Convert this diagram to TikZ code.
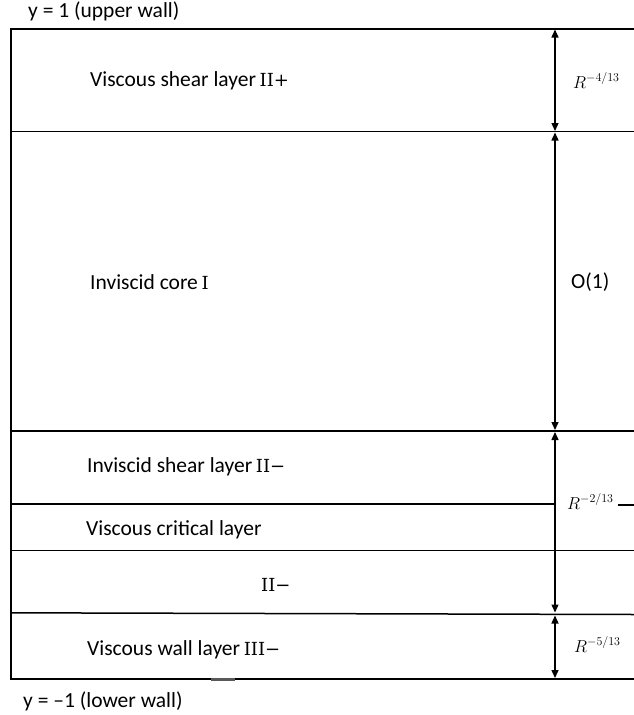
\documentclass[tikz,border=0pt]{standalone}
\usepackage{fontspec}
\setmainfont{Carlito}
\newfontfamily\cam{DejaVu Serif}
\usetikzlibrary{arrows.meta}
\tikzset{
  lbl/.style={anchor=base west, inner sep=0pt, font=\fontsize{21.5}{24}\selectfont},
  rlbl/.style={anchor=base west, inner sep=0pt, font=\fontsize{18}{20}\selectfont},
  wall/.style={line width=1.5pt, black},
  dim/.style={line width=1.4pt, black, {Triangle[width=7pt,length=8pt]}-{Triangle[width=7pt,length=8pt]}}
}
\newcommand{\numfont}{\cam\fontsize{18}{20}\selectfont}
\begin{document}
\begin{tikzpicture}[x=1pt,y=-1pt]
\useasboundingbox (0,0) rectangle (634,715);
% wall lines
\coordinate (TL) at (11,29);
\coordinate (BL) at (11,679);
\draw[wall] (634,29) -- (TL) -- (BL) -- (634,679);
\draw[wall] (11,131.5) -- (634,131.5);
\draw[wall] (11,431) -- (634,431);
\draw[wall] (11,504) -- (555,504);
\draw[wall] (618,505) -- (634,505);
\draw[wall] (11,550.5) -- (634,550.5);
\draw[wall] (11,612.8) -- (634,614.5);
\draw[line width=2.5pt, black!65] (211,679.3) -- (235,679.3);
% dimension arrows
\coordinate (a0) at (555,29.5);
\coordinate (a1) at (555,131);
\coordinate (b0) at (555,132.5);
\coordinate (b1) at (555,430);
\coordinate (c0) at (555,432);
\coordinate (c1) at (555,612.5);
\coordinate (d0) at (555,615.5);
\coordinate (d1) at (555,678);
\draw[dim] (a0) -- (a1);
\draw[dim] (b0) -- (b1);
\draw[dim] (c0) -- (c1);
\draw[dim] (d0) -- (d1);
% labels
\node[lbl] (up) at (28,17) {y = 1 (upper wall)};
\node[lbl] (low) at (23,707) {y = –1 (lower wall)};
\node[lbl] (vsl) at (90,86) {Viscous shear layer\,{\numfont II+}};
\node[lbl] (core) at (90,289) {Inviscid core\,{\numfont I}};
\node[lbl] (isl) at (87,472) {Inviscid shear layer\,{\numfont II−}};
\node[lbl] (vcl) at (86,535) {Viscous critical layer};
\node[lbl] (iim) at (261,591) {\numfont II−};
\node[lbl] (vwl) at (87,655) {Viscous wall layer\,{\numfont III−}};
\node[rlbl] (r4) at (573,88) {$R^{-4/13}$};
\node[lbl] (o1) at (571,288) {O(1)};
\node[rlbl] (r2) at (567,509) {$R^{-2/13}$};
\node[rlbl] (r5) at (574,652) {$R^{-5/13}$};
\end{tikzpicture}
\end{document}
